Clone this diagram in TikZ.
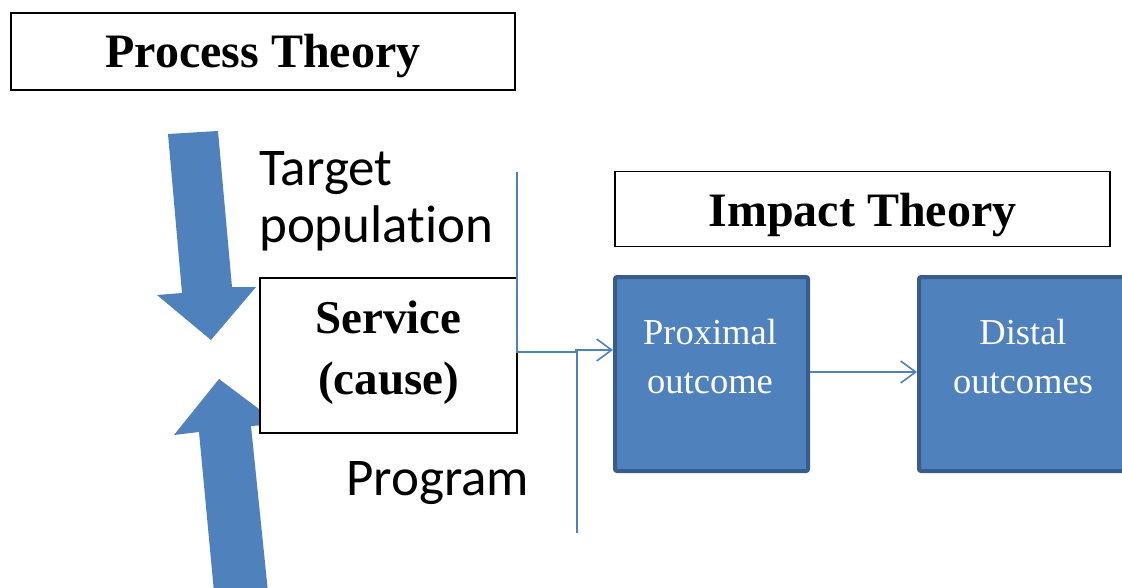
\documentclass[tikz,border=0pt]{standalone}
\usepackage{fontspec}
\setmainfont{Liberation Serif}
\newfontfamily\calibri[Ligatures=NoCommon]{Carlito}
\usetikzlibrary{arrows.meta}
\definecolor{c1}{HTML}{4F81BD}
\definecolor{c2}{HTML}{385D8A}
\tikzset{
  titlebox/.style={draw=black,line width=1.5pt,fill=white,inner sep=0pt},
  bluebox/.style={draw=c2,fill=c1,line width=4pt,rounded corners=2pt,inner sep=0pt},
  conn/.style={draw=c1,line width=1.6pt},
  lbl/.style={inner sep=0pt,anchor=base},
  sertitle/.style={font=\fontsize{48}{56}\selectfont\bfseries},
  sanslbl/.style={font=\calibri\fontsize{53}{57}\selectfont},
  whitelbl/.style={font=\fontsize{36.5}{50}\selectfont,text=white},
  tipbarb/.style={-{Straight Barb[length=15pt,width=22pt,line width=1.6pt]}}
}
\begin{document}
\begin{tikzpicture}[x=1pt,y=-1pt]
\useasboundingbox (0,0) rectangle (1122,587);
% big arrows
\fill[c1] (168,134) -- (218,131) -- (232,287) -- (256,287) -- (211,340) -- (157,295) -- (182,293) -- cycle;
\fill[c1] (219,379) -- (279,424) -- (251,426) -- (268,592) -- (214,592) -- (199,432) -- (174,435) -- cycle;
% title boxes
\node[titlebox,minimum width=504pt,minimum height=77pt] (pt) at (263,51.5) {};
\node[lbl,sertitle] (ptl) at (263,67) {Process Theory};
\node[titlebox,minimum width=495pt,minimum height=75pt] (it) at (862.5,209) {};
\node[lbl,sertitle] (itl) at (862.5,226) {Impact Theory};
% service
\node[titlebox,minimum width=257pt,minimum height=155pt] (svc) at (388.5,355.5) {};
\node[lbl,sertitle,font=\fontsize{47}{56}\selectfont\bfseries] (s1) at (388.5,333) {Service};
\node[lbl,sertitle,font=\fontsize{47}{56}\selectfont\bfseries] (s2) at (388.5,394) {(cause)};
% side labels
\node[lbl,sanslbl,anchor=base west] (tg1) at (259,185) {Target};
\node[lbl,sanslbl,anchor=base west] (tg2) at (259,242) {population};
\node[lbl,sanslbl,anchor=base west] (pg) at (346,495) {Program};
% impact boxes
\node[bluebox,minimum width=193pt,minimum height=194pt] (prox) at (711.5,374) {};
\node[lbl,whitelbl] (p1) at (710,344) {Proximal};
\node[lbl,whitelbl] (p2) at (710,393) {outcome};
\node[bluebox,minimum width=208pt,minimum height=194pt] (dist) at (1023,374) {};
\node[lbl,whitelbl] (d1) at (1023,344) {Distal};
\node[lbl,whitelbl] (d2) at (1023,393) {outcomes};
% connectors
\coordinate (tp) at (517,172);
\coordinate (j0) at (517,352);
\coordinate (j1) at (577,352);
\coordinate (pb) at (577,533);
\coordinate (a0) at (575,350);
\draw[conn] (tp) -- (j0) -- (j1) -- (pb);
\draw[conn,tipbarb] (a0) -- (prox.west |- a0);
\draw[conn,tipbarb] (prox.east |- 0,372) -- (dist.west |- 0,372);
\end{tikzpicture}
\end{document}
